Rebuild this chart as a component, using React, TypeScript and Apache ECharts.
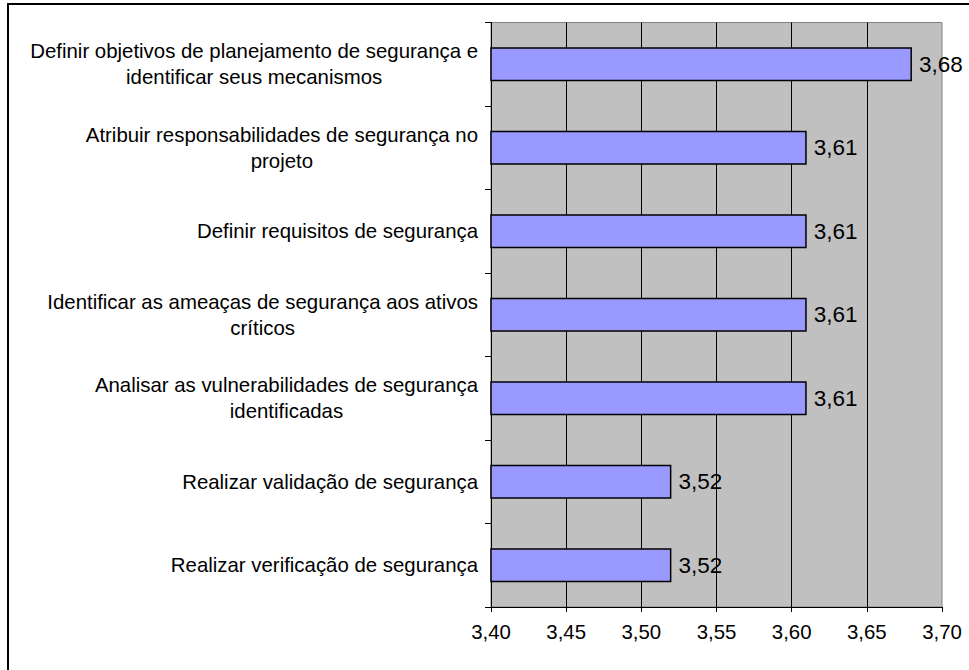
import React, { useEffect, useRef } from "react";
import * as echarts from "echarts";

// Practices, top to bottom
const categories: string[] = [
  "Definir objetivos de planejamento de segurança e\nidentificar seus mecanismos",
  "Atribuir responsabilidades de segurança no\nprojeto",
  "Definir requisitos de segurança",
  "Identificar as ameaças de segurança aos ativos\ncríticos",
  "Analisar as vulnerabilidades de segurança\nidentificadas",
  "Realizar validação de segurança",
  "Realizar verificação de segurança",
];

// Mean scores
const scores: number[] = [3.68, 3.61, 3.61, 3.61, 3.61, 3.52, 3.52];

// Value axis range
const axisMin = 3.4;
const axisMax = 3.7;
const axisStep = 0.05;

const FONT = "'Liberation Sans', Arial, sans-serif";
const FS = 20.4;
const comma = (v: number) => v.toFixed(2).replace(".", ",");

export default function App() {
  const ref = useRef<HTMLDivElement>(null);

  useEffect(() => {
    if (!ref.current) return;
    const chart = echarts.init(ref.current, null, { renderer: "svg" });
    chart.setOption({
      animation: false,
      backgroundColor: "#ffffff",
      textStyle: { fontFamily: FONT },
      graphic: [
        {
          type: "rect",
          shape: { x: 8, y: 4, width: 1000, height: 1000 },
          style: { fill: "none", stroke: "#000000", lineWidth: 2 },
          silent: true,
        },
      ],
      grid: {
        left: 491,
        top: 22.5,
        right: 27,
        bottom: 63,
        show: true,
        backgroundColor: "#C0C0C0",
        borderColor: "#808080",
        borderWidth: 1,
      },
      xAxis: {
        type: "value",
        min: axisMin,
        max: axisMax,
        interval: axisStep,
        axisLine: { show: true, lineStyle: { color: "#000000", width: 1 } },
        axisTick: { show: true, length: 5, lineStyle: { color: "#000000" } },
        axisLabel: {
          color: "#000000",
          fontSize: FS,
          fontFamily: FONT,
          margin: 15,
          formatter: (v: number) => comma(v),
        },
        splitLine: {
          show: true,
          showMinLine: false,
          showMaxLine: false,
          lineStyle: { color: "#000000", width: 1 },
        },
      },
      yAxis: {
        type: "category",
        data: categories,
        inverse: true,
        axisLine: { show: true, lineStyle: { color: "#000000", width: 1 } },
        axisTick: { show: true, length: 6, lineStyle: { color: "#000000" } },
        axisLabel: {
          color: "#000000",
          fontSize: FS,
          fontFamily: FONT,
          margin: 13,
          lineHeight: 26,
          align: "right",
          formatter: (v: string) => `{c|${v}}`,
          rich: {
            c: {
              align: "center",
              fontSize: FS,
              fontFamily: FONT,
              lineHeight: 26,
              color: "#000000",
            },
          },
        },
        splitLine: { show: false },
      },
      series: [
        {
          type: "bar",
          data: scores,
          barWidth: 34,
          itemStyle: { color: "#9999FF", borderColor: "#000000", borderWidth: 1.5 },
          label: {
            show: true,
            position: "right",
            distance: 7,
            color: "#000000",
            fontSize: 22.5,
            fontFamily: FONT,
            formatter: (p: any) => comma(p.value),
          },
        },
      ],
    });
    return () => chart.dispose();
  }, []);

  return (
    <div
      ref={ref}
      style={{ position: "fixed", left: 0, top: 0, width: 969, height: 670 }}
    />
  );
}
